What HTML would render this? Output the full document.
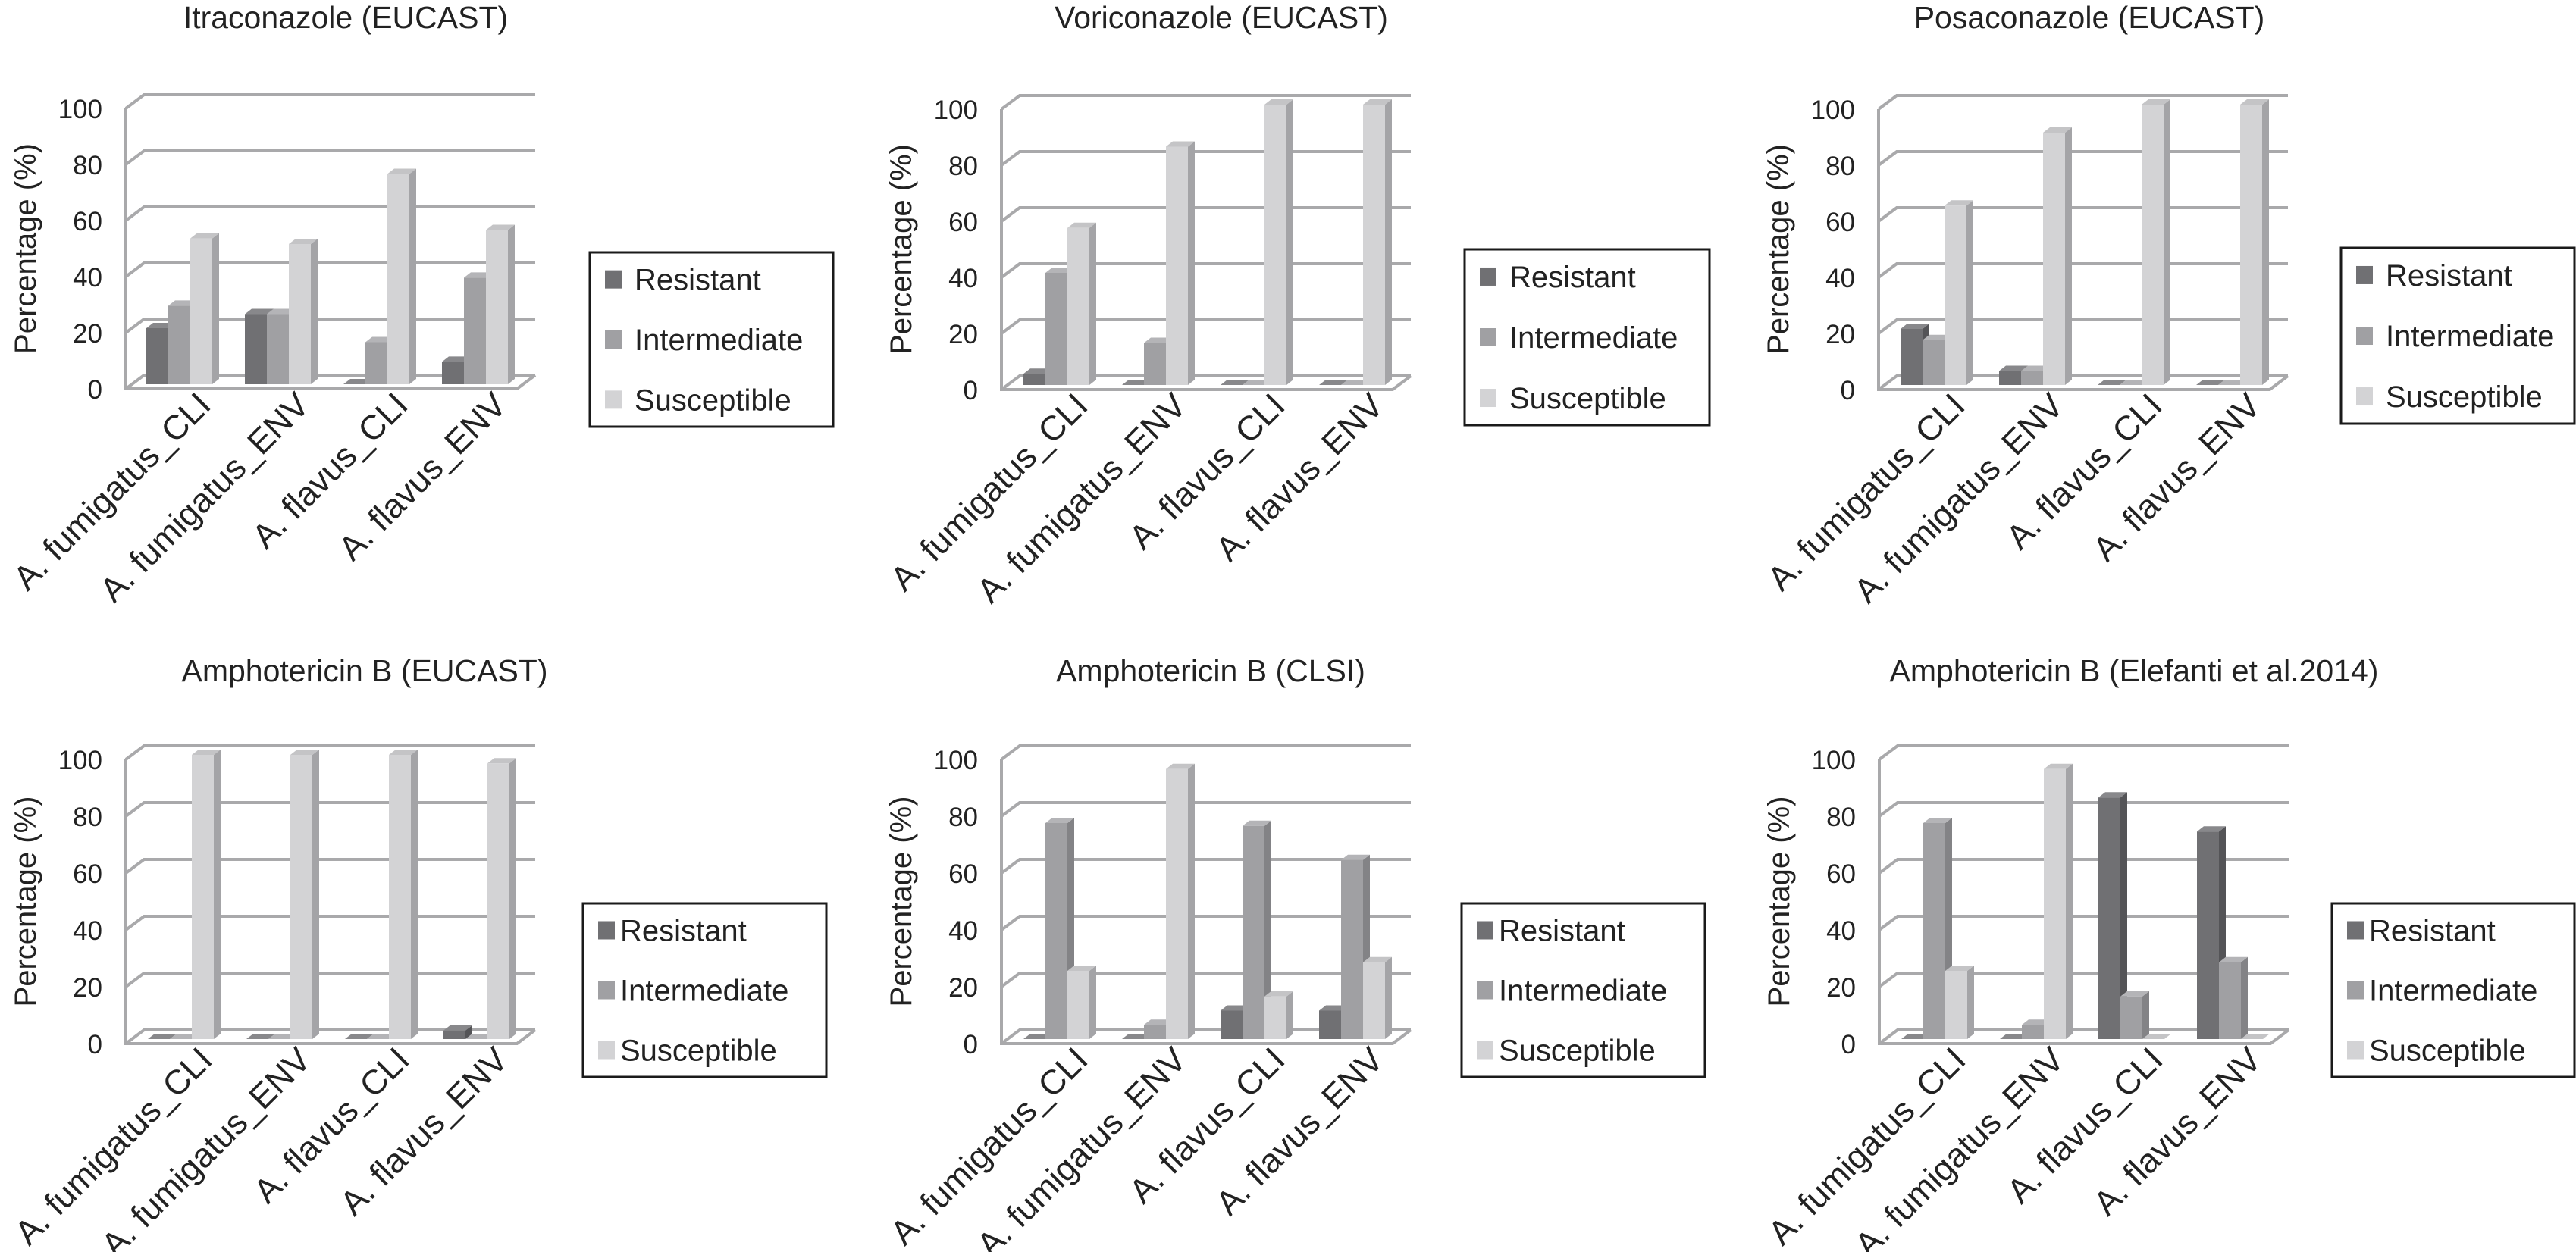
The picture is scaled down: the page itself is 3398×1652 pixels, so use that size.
<!DOCTYPE html>
<html><head><meta charset="utf-8"><style>
html,body{margin:0;padding:0;background:#fff;}
svg{display:block;font-family:"Liberation Sans",Arial,sans-serif;}
</style></head><body>
<svg id="fig" width="3398" height="1652" viewBox="0 0 3398 1652" xmlns="http://www.w3.org/2000/svg"></svg>
<script>
const categories = ["A. fumigatus_CLI","A. fumigatus_ENV","A. flavus_CLI","A. flavus_ENV"];
const seriesNames = ["Resistant","Intermediate","Susceptible"];
const yTicks = [0,20,40,60,80,100];
const itraR = [20,25,0,8],   itraI = [28,25,15,38], itraS = [52,50,75,55];
const voriR = [4,0,0,0],     voriI = [40,15,0,0],   voriS = [56,85,100,100];
const posaR = [20,5,0,0],    posaI = [16,5,0,0],    posaS = [64,90,100,100];
const ambEuR = [0,0,0,3],    ambEuI = [0,0,0,0],    ambEuS = [100,100,100,97];
const ambClR = [0,0,10,10],  ambClI = [76,5,75,63], ambClS = [24,95,15,27];
const ambElR = [0,0,85,73],  ambElI = [76,5,15,27], ambElS = [24,95,0,0];
const titles = ["Itraconazole (EUCAST)","Voriconazole (EUCAST)","Posaconazole (EUCAST)","Amphotericin B (EUCAST)","Amphotericin B (CLSI)","Amphotericin B (Elefanti et al.2014)"];

const NS="http://www.w3.org/2000/svg";
const svg=document.getElementById('fig');
function mk(tag,attrs,parent){const e=document.createElementNS(NS,tag);for(const k in attrs)e.setAttribute(k,attrs[k]);(parent||svg).appendChild(e);return e;}
const fills=[["#707073","#545457","#88888b"],["#a0a0a3","#838386","#b4b4b7"],["#d3d3d5","#a4a4a7","#c4c4c6"]];

const charts=[
 {fx:166,fy:513,unit:3.70,tx:456,ty:37,data:[itraR,itraI,itraS],bar0:27,lgx:778,lgy:333,lgw:321,lgh:230,tgap:17},
 {fx:1321,fy:514,unit:3.70,tx:1611,ty:37,data:[voriR,voriI,voriS],bar0:29,lgx:1932,lgy:329,lgw:323,lgh:232,tgap:17},
 {fx:2478,fy:514,unit:3.70,tx:2756,ty:37,data:[posaR,posaI,posaS],bar0:29,lgx:3088,lgy:327,lgw:308,lgh:232,tgap:17},
 {fx:166,fy:1377,unit:3.75,tx:481,ty:899,data:[ambEuR,ambEuI,ambEuS],bar0:29,lgx:769,lgy:1192,lgw:321,lgh:229,tgap:7},
 {fx:1321,fy:1377,unit:3.75,tx:1597,ty:899,data:[ambClR,ambClI,ambClS],bar0:29,lgx:1928,lgy:1192,lgw:321,lgh:229,tgap:7},
 {fx:2479,fy:1377,unit:3.75,tx:2815,ty:899,data:[ambElR,ambElI,ambElS],bar0:29,lgx:3076,lgy:1192,lgw:320,lgh:229,tgap:7}
];
const DX=24,DY=-18,W=516,BW=29,STEP=130,bdx=9,bdy=-7;

charts.forEach((c,ci)=>{
  const g=mk('g',{});
  
  
  const yF=v=>c.fy - v*c.unit;
  const t=mk('text',{x:c.tx,y:c.ty,'font-size':41,'text-anchor':'middle',fill:'#222'},g);
  t.textContent=titles[ci];
  
  
  const gs={stroke:'#a9a9ab','stroke-width':4,fill:'none'};
  yTicks.forEach(v=>{
    const y=yF(v);
    const p=mk('polyline',Object.assign({points:`${c.fx},${y} ${c.fx+DX},${y+DY} ${c.fx+W+DX},${y+DY}`},gs),g);
    
    
    const tl=mk('text',{x:c.fx-31,y:y+13,'font-size':35,'text-anchor':'end',fill:'#222'},g);
    tl.textContent=v;
    
    
  });
  const ax=mk('polyline',Object.assign({points:`${c.fx},${yF(100)} ${c.fx},${c.fy} ${c.fx+W},${c.fy} ${c.fx+W+DX},${c.fy+DY}`},gs),g);
  
  
  const cy=(c.fy+yF(100))/2;
  const yl=mk('text',{x:0,y:0,'font-size':40,'text-anchor':'middle',fill:'#222',transform:`translate(${c.fx-119},${cy}) rotate(-90)`},g);
  yl.textContent='Percentage (%)';
  
  
  const base=c.fy-6;
  categories.forEach((cat,gi)=>{
    const gx=c.fx+c.bar0+gi*STEP;
    c.data.forEach((arr,si)=>{
      const v=arr[gi];
      const x=gx+si*BW, top=base-v*c.unit;
      const bg=mk('g',{},g);
      
      
      mk('polygon',{points:`${x+BW},${base} ${x+BW+bdx},${base+bdy} ${x+BW+bdx},${top+bdy} ${x+BW},${top}`,fill:fills[si][1]},bg);
      mk('polygon',{points:`${x},${top} ${x+bdx},${top+bdy} ${x+BW+bdx},${top+bdy} ${x+BW},${top}`,fill:fills[si][2]},bg);
      mk('rect',{x:x,y:top,width:BW,height:Math.max(0,base-top),fill:fills[si][0]},bg);
    });
    const cx=gx+1.5*BW+44, ly=c.fy+24;
    const xl=mk('text',{x:0,y:0,'font-size':45,'text-anchor':'end',fill:'#222',transform:`translate(${cx},${ly}) rotate(-45)`},g);
    xl.textContent=cat;
    
    
  });
  const lg=mk('g',{},g);
  
  
  mk('rect',{x:c.lgx,y:c.lgy,width:c.lgw,height:c.lgh,fill:'#fff',stroke:'#1a1a1a','stroke-width':3},lg);
  const rows=[0.155,0.5,0.845];
  seriesNames.forEach((n,si)=>{
    const ry=c.lgy+rows[si]*c.lgh;
    const e=mk('g',{},lg);
    
    
    mk('rect',{x:c.lgx+20,y:ry-12,width:22,height:24,fill:fills[si][0]},e);
    const lt=mk('text',{x:c.lgx+42+c.tgap,y:ry+14,'font-size':40,fill:'#222'},e);
    lt.textContent=n;
  });
});
</script>
</body></html>
